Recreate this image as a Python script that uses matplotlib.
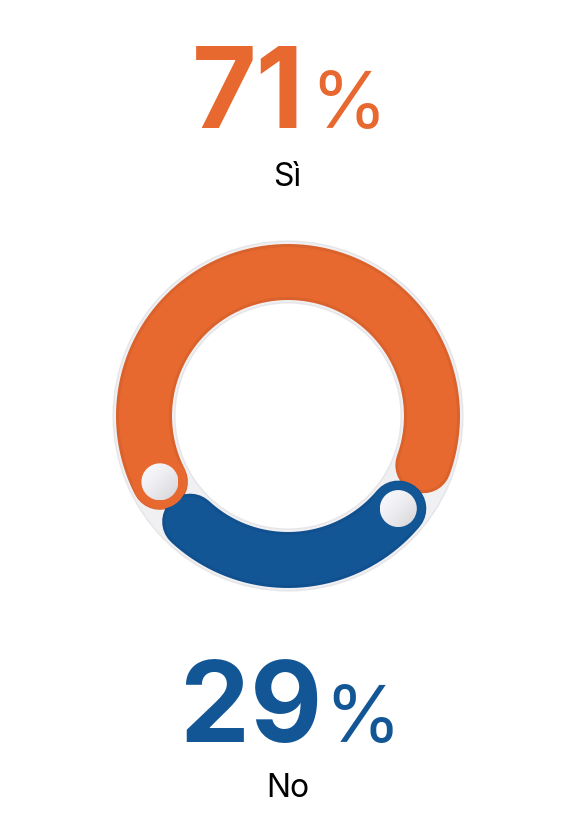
import numpy as np
import matplotlib.pyplot as plt
from matplotlib.patches import Circle

# --- data ---
labels = ['Sì', 'No']
values = [71, 29]
colors = ['#E8692F', '#135696']
shades = ['#DA622D', '#10508E']

W, H = 580, 836
cx, cy = 288, 416          # ring centre (px)
r_mid = 144                # ring mid radius
band = 56                  # band width (px)
gap = 20                   # degrees between the two arcs
start = -20                # where the first arc starts (deg, ccw)

fig = plt.figure(figsize=(W / 100, H / 100), dpi=100)
ax = fig.add_axes([0, 0, 1, 1])
ax.set_xlim(0, W)
ax.set_ylim(H, 0)
ax.set_aspect('equal')
ax.axis('off')

px = 72 / 100  # pixels -> points


def arc_xy(a0, a1, r=r_mid):
    t = np.radians(np.linspace(a0, a1, 300))
    return cx + r * np.cos(t), cy - r * np.sin(t)


def knob(x, y, rad=18.5):
    grad = np.linspace(0, 1, 64)
    gx, gy = np.meshgrid(grad, grad)
    g = 0.98 - 0.15 * np.clip((gx + gy) / 2, 0, 1) ** 1.6
    img = np.dstack([g * 0.995, g * 0.995, g * 1.01]).clip(0, 1)
    circ = Circle((x, y), rad, transform=ax.transData, facecolor='none', edgecolor='none')
    ax.add_patch(circ)
    im = ax.imshow(img, extent=[x - rad, x + rad, y + rad, y - rad], zorder=8,
                   interpolation='bilinear')
    im.set_clip_path(circ)


# background track
ax.add_patch(Circle((cx, cy), r_mid, fill=False, edgecolor='#E6E6EA', lw=(band + 7) * px, zorder=0.9))
ax.add_patch(Circle((cx, cy), r_mid, fill=False, edgecolor='#F0F0F2', lw=(band + 4) * px, zorder=1))

avail = 360 - gap * len(values)
a = start
ends = []
for i, v in enumerate(values):
    span = avail * v / sum(values)
    x, y = arc_xy(a, a + span)
    ax.plot(x, y, color=shades[i], lw=band * px, solid_capstyle='round', zorder=2 + i)
    ax.plot(x, y, color=colors[i], lw=(band - 6) * px, solid_capstyle='round', zorder=2 + i)
    ends.append((a + span, colors[i]))
    a += span + gap

# knobs at the end of each arc, on top of everything
for ang, c in ends:
    kx = cx + r_mid * np.cos(np.radians(ang))
    ky = cy - r_mid * np.sin(np.radians(ang))
    ax.add_patch(Circle((kx, ky), band / 2 - 1, facecolor=c, edgecolor='none', zorder=7))
    knob(kx, ky)

# --- texts ---
big = dict(family='Inter', fontweight='bold', fontsize=80)
pct = dict(family='Inter', fontweight='normal', fontsize=56)
lab = dict(family='Inter', fontsize=23, color='black')

ax.text(304, 128, f'{values[0]}', color=colors[0], ha='right', va='baseline', **big)
ax.text(310, 128, '%', color=colors[0], ha='left', va='baseline', **pct)
ax.text(287, 186, labels[0], ha='center', va='baseline', **lab)

ax.text(322, 742, f'{values[1]}', color=colors[1], ha='right', va='baseline', **big)
ax.text(324, 742, '%', color=colors[1], ha='left', va='baseline', **pct)
ax.text(288, 797, labels[1], ha='center', va='baseline', **lab)

fig.savefig('out.png', dpi=100, facecolor='white')
